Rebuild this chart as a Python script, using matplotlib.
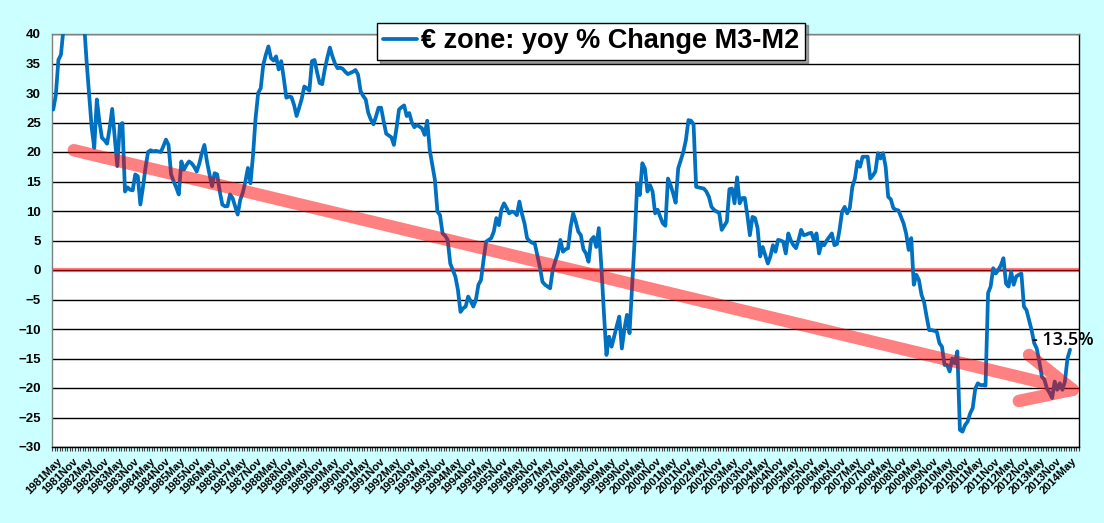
import numpy as np
import pandas as pd
import matplotlib
matplotlib.use("Agg")
import matplotlib.pyplot as plt
from matplotlib.collections import LineCollection
from matplotlib.font_manager import FontProperties

plt.rcParams['font.family'] = ['Liberation Sans', 'DejaVu Sans']

# ---------------- data ----------------
start_month = '1981-02'          # first category / first observation
axis_end_month = '2014-06'       # last category on the axis

yoy_m3_m2 = [
    27.2, 29.7, 35.6, 36.5, 41, 44, 47, 49, 50, 48, 46, 44, 42, 35.4, 29.7, 24.1,
    20.7, 28.9, 25.2, 22.4, 22.0, 21.4, 24.0, 27.3, 22.4, 17.6, 24.6, 24.9, 13.3,
    14.0, 13.6, 13.5, 16.2, 15.9, 11.1, 14.0, 17.3, 20.0, 20.3, 20.1, 20.2, 20.1,
    20.0, 21.0, 22.1, 21.2, 16.2, 15.0, 14.0, 12.8, 18.4, 17.0, 17.8, 18.4, 18.1,
    17.5, 16.7, 18.0, 19.8, 21.2, 18.4, 16.2, 14.2, 16.4, 16.2, 13.3, 11.1, 10.8,
    10.8, 12.8, 12.2, 10.8, 9.4, 11.9, 13.1, 15.0, 17.3, 14.7, 19.5, 25.8, 30.0,
    30.8, 34.8, 36.5, 37.9, 35.9, 35.5, 36.2, 34.0, 35.4, 32.5, 29.2, 29.4, 29.3,
    28.0, 26.1, 27.5, 29.0, 31.1, 30.8, 30.4, 35.4, 35.6, 33.5, 31.7, 31.5, 34.0,
    36.0, 37.7, 36.2, 35.0, 34.2, 34.3, 34.1, 33.6, 33.2, 33.4, 33.6, 33.9, 33.1,
    30.3, 29.5, 28.9, 26.6, 25.5, 24.7, 26.0, 27.5, 27.5, 25.2, 23.1, 22.8, 22.5,
    21.2, 24.0, 27.2, 27.6, 27.9, 26.1, 26.6, 25.0, 24.2, 24.6, 24.3,
    24.0, 22.9, 25.3, 20.3, 17.8, 15.3, 9.9, 9.3, 6.2, 5.8, 5.1, 1.1, 0.0, -1.1,
    -3.4, -7.1, -6.5, -6.2, -4.5, -5.3, -6.2, -5.1, -2.5, -1.7, 1.7, 4.8, 5.1, 5.4,
    6.5, 8.8, 7.6, 10.3, 11.3, 10.5, 9.6, 9.9, 9.8, 9.3, 11.6, 9.5, 7.9, 5.4, 4.9,
    4.6, 4.5, 2.5, 0.5, -2.0, -2.5, -2.8, -3.1, 0.0, 1.5, 2.8, 5.1, 3.1, 3.5, 3.7,
    7.3, 9.6, 8.2, 6.5, 5.9, 3.5, 2.8, 1.4, 5.1, 5.6, 3.9, 7.1, 0.6, -7.3, -14.4,
    -11.3, -13.0, -11.3, -9.5, -7.9, -13.3, -10.0, -7.6, -10.7, -2.8, 5.1, 14.7,
    12.7, 18.1, 17.2, 13.3, 14.4, 13.3, 9.6, 10.2, 9.0, 7.9, 7.5, 15.5, 14.4, 13.0,
    11.4, 17.2, 18.6, 20.0, 22.0, 25.4, 25.3, 24.7, 14.1, 14.0, 13.9,
    13.8, 13.3, 12.4, 10.7, 10.2, 9.9, 9.7, 6.8, 7.5, 8.2, 13.7, 13.8, 11.3, 15.7,
    11.3, 12.2, 12.2, 9.3, 5.9, 9.0, 8.8, 7.1, 2.3, 3.9, 2.5, 1.1, 2.3, 4.2, 3.1,
    5.1, 5.0, 4.8, 2.8, 6.2, 5.0, 4.2, 3.7, 5.1, 6.8, 5.9, 6.0, 6.2, 6.3, 5.1, 6.2,
    2.8, 4.5, 4.2, 5.0, 5.6, 6.2, 4.2, 4.4, 6.8, 9.9, 10.7, 9.6, 10.5, 14.1, 15.5,
    18.4, 17.5, 19.2, 19.2, 19.2, 15.5, 16.0, 16.7, 19.8, 18.9, 19.8, 17.5, 12.4,
    12.0, 10.5, 10.2, 10.1, 9.0, 7.9, 6.2, 3.4, 5.4, -2.5, -0.8, -1.7, -4.2, -5.4,
    -7.9, -10.2, -10.2, -10.3,
    -10.5, -12.4, -13.0, -16.1, -16.1, -17.2, -15.0, -15.8, -13.8, -27.1, -27.4,
    -26.3, -25.7, -24.3, -23.4, -20.1, -19.2, -19.5, -19.5, -19.6, -3.9, -2.8, 0.3,
    -0.6, 0.0, 0.8, 2.0, -2.3, -2.8, -0.3, -2.5, -1.1, -0.8, -0.6, -6.2, -6.8, -8.5,
    -10.2, -12.4, -13.3, -15.5, -18.1, -18.6, -20.1, -20.8, -21.7, -18.9, -20.3,
    -19.2, -20.3, -18.9, -15.0, -13.5,
]

series_label = '€ zone: yoy % Change M3-M2'
last_label = '- 13.5%'
last_label_pos = ('2012-12', -11.9)

# hand-drawn trend arrow (month, value)
trend_start = ('1981-10', 20.3)
trend_tip = ('2014-04', -20.3)
head_upper = ('2012-11', -14.4)
head_lower = ('2012-07', -22.2)

y_ticks = list(range(-30, 45, 5))
y_min, y_max = -30, 40

# ---------------- helpers ----------------
p0 = pd.Period(start_month, 'M')


def mi(s):
    return (pd.Period(s, 'M') - p0).n


periods = pd.period_range(start_month, axis_end_month, freq='M')
x = np.arange(len(yoy_m3_m2))

W, H = 1104, 523
fig = plt.figure(figsize=(W / 100, H / 100), dpi=100, facecolor='#CCFFFF')
ax = fig.add_axes([52 / W, 1 - 447 / H, 1027 / W, 413 / H])
ax.set_facecolor('white')

ax.set_xlim(-0.5, len(periods) - 0.5)
ax.set_ylim(y_min, y_max)

# grid
ax.set_axisbelow(True)
ax.set_yticks(y_ticks)
ax.yaxis.grid(True, color='black', lw=1.0)
ax.xaxis.grid(False)

# zero line (translucent red over black grid)
ax.axhline(0, color='red', alpha=0.5, lw=3.0, zorder=2)

# series
line, = ax.plot(x, yoy_m3_m2, color='#0070C0', lw=2.7, solid_joinstyle='round',
                solid_capstyle='round', zorder=3)

# trend arrow
segs = [
    [(mi(trend_start[0]), trend_start[1]), (mi(trend_tip[0]), trend_tip[1])],
    [(mi(head_upper[0]), head_upper[1]), (mi(trend_tip[0]), trend_tip[1])],
    [(mi(head_lower[0]), head_lower[1]), (mi(trend_tip[0]), trend_tip[1])],
]


def half_alpha(img, dpi):
    out = img.copy()
    out[..., 3] = out[..., 3] * 0.5
    return out, 0, 0


lc = LineCollection(segs, colors='red', linewidths=9, capstyle='round',
                    joinstyle='round', zorder=4)
lc.set_agg_filter(half_alpha)
ax.add_collection(lc)

# annotation
ax.text(mi(last_label_pos[0]), last_label_pos[1], last_label,
        fontsize=13, fontfamily=['Open Sans', 'DejaVu Sans'], fontweight='semibold',
        ha='left', va='center', clip_on=False, zorder=6, color='black')

# x ticks
lab_idx = [i for i, p in enumerate(periods) if p.month in (5, 11)]
labels = [f"{p.year}{'May' if p.month == 5 else 'Nov'}" for p in periods if p.month in (5, 11)]
ax.set_xticks(lab_idx)
ax.set_xticklabels(labels, rotation=45, ha='right', va='center',
                   rotation_mode='anchor', fontsize=8, fontweight='bold')
ax.set_xticks(np.arange(-0.5, len(periods)), minor=True)
ax.tick_params(axis='x', which='major', length=0, pad=9)
ax.tick_params(axis='x', which='minor', length=3, width=0.8, color='#404040')

# y ticks
ax.tick_params(axis='y', which='both', length=0, pad=8, labelsize=9.5)
for t in ax.get_yticklabels():
    t.set_fontweight('bold')

# spines
ax.spines['left'].set_color('#808080')
ax.spines['top'].set_color('#808080')
ax.spines['right'].set_color('black')
ax.spines['bottom'].set_color('black')
for s in ax.spines.values():
    s.set_linewidth(1.0)

# legend
leg = ax.legend([line], [series_label], loc='center',
                bbox_to_anchor=(591 / W, 1 - 41.5 / H), bbox_transform=fig.transFigure,
                prop=FontProperties(family='Liberation Sans', weight='bold', size=19.5),
                frameon=True, fancybox=False, shadow=True, edgecolor='black',
                framealpha=1, borderpad=0.22, handlelength=1.25, handletextpad=0.15,
                borderaxespad=0)
leg.get_frame().set_linewidth(1.0)
leg.set_zorder(10)

fig.savefig('out.png', dpi=100, facecolor=fig.get_facecolor())
